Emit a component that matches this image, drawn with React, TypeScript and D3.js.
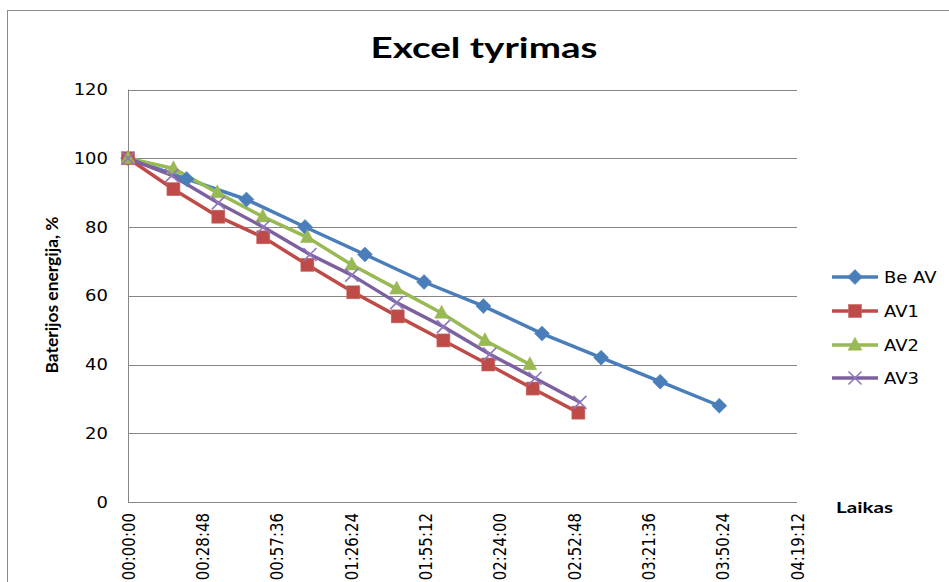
import React from "react";
import * as d3 from "d3";

// ---- data (times in minutes, battery energy in %) ----
const seriesNames = ["Be AV", "AV1", "AV2", "AV3"];
const beAvTimes = [0, 22.7, 45.9, 68.6, 91.8, 114.7, 137.7, 160.4, 183.3, 206.2, 229.1];
const beAvValues = [100, 94, 88, 80, 72, 64, 57, 49, 42, 35, 28];
const av1Times = [0, 17.6, 35.0, 52.4, 69.5, 87.3, 104.5, 122.2, 139.6, 156.8, 174.5];
const av1Values = [100, 91, 83, 77, 69, 61, 54, 47, 40, 33, 26];
const av2Times = [0, 17.6, 34.6, 52.2, 69.5, 86.7, 104.1, 121.5, 138.3, 155.7];
const av2Values = [100, 97, 90, 83, 77, 69, 62, 55, 47, 40];
const av3Times = [0, 17.0, 35.0, 52.4, 70.5, 86.7, 104.1, 122.2, 140.2, 157.7, 175.1];
const av3Values = [100, 95, 87, 80, 72, 66, 58, 51, 43, 36, 29];
const xTickLabels = ["00:00:00", "00:28:48", "00:57:36", "01:26:24", "01:55:12", "02:24:00", "02:52:48", "03:21:36", "03:50:24", "04:19:12"];
const yTickValues = [0, 20, 40, 60, 80, 100, 120];
const colors = ["#4A7EBB", "#BE4B48", "#98B954", "#7D60A0"];
const markerTypes = ["diamond", "square", "triangle", "x"];

const toMinutes = (s: string) => {
  const [h, m, sec] = s.split(":").map(Number);
  return h * 60 + m + sec / 60;
};

const W = 949, H = 582;
const plotL = 128, plotR = 797, plotT = 89.5, plotB = 502;
const grid = "#868686";
const SX = 1.2;

function Marker({ type, x, y, color }: { type: string; x: number; y: number; color: string }) {
  if (type === "diamond") {
    const r = 7.5;
    return <path d={`M${x},${y - r}L${x + r},${y}L${x},${y + r}L${x - r},${y}Z`} fill={color} stroke={color} strokeWidth={0.5} />;
  }
  if (type === "square") {
    const s = 13;
    return <rect x={x - s / 2} y={y - s / 2} width={s} height={s} fill={color} stroke="#C86A67" strokeWidth={0.6} />;
  }
  if (type === "triangle") {
    const w = 14, h = 13;
    return <path d={`M${x},${y - h * 0.6}L${x + w / 2},${y + h * 0.4}L${x - w / 2},${y + h * 0.4}Z`} fill={color} stroke={color} strokeWidth={0.5} />;
  }
  const r = 6.5;
  return (
    <g stroke="#8E78BC" strokeWidth={1.6}>
      <line x1={x - r} y1={y - r} x2={x + r} y2={y + r} />
      <line x1={x - r} y1={y + r} x2={x + r} y2={y - r} />
    </g>
  );
}

export default function App() {
  const maxMin = toMinutes(xTickLabels[xTickLabels.length - 1]);
  const x = d3.scaleLinear().domain([0, maxMin]).range([plotL, plotR]);
  const y = d3.scaleLinear().domain([0, 120]).range([plotB, plotT]);
  const line = d3.line<[number, number]>().x((d) => x(d[0])).y((d) => y(d[1]));

  const series = [
    { times: beAvTimes, values: beAvValues },
    { times: av1Times, values: av1Values },
    { times: av2Times, values: av2Values },
    { times: av3Times, values: av3Values },
  ].map((s, i) => ({
    name: seriesNames[i],
    color: colors[i],
    marker: markerTypes[i],
    pts: s.times.map((t, j) => [t, s.values[j]] as [number, number]),
  }));

  const legendY = [277, 311, 345, 378];

  return (
    <svg width={W} height={H} style={{ position: "absolute", left: 0, top: 0, background: "#fff" }}>
      <rect x={0} y={0} width={W} height={H} fill="#fff" />
      <rect x={7.5} y={10.5} width={W + 20} height={H + 20} fill="none" stroke="#8c8c8c" strokeWidth={1} />

      {/* title */}
      <text x={484} y={58} textAnchor="middle" fontFamily="Lato" fontWeight="bold" fontSize={29} textLength={227} lengthAdjust="spacingAndGlyphs" fill="#000">
        Excel tyrimas
      </text>

      {/* gridlines */}
      {yTickValues.map((v) => (
        <line key={v} x1={plotL} x2={plotR} y1={Math.round(y(v)) + 0.5} y2={Math.round(y(v)) + 0.5} stroke={grid} strokeWidth={1} />
      ))}
      <line x1={plotL + 0.5} x2={plotL + 0.5} y1={plotT} y2={plotB + 0.5} stroke={grid} strokeWidth={1} />

      {/* y tick labels */}
      {yTickValues.map((v) => (
        <text key={"l" + v} transform={`translate(108,${y(v) + 5.5}) scale(${SX},1)`} textAnchor="end" fontFamily="DejaVu Sans" fontSize={15} fill="#000">
          {v}
        </text>
      ))}

      {/* x tick labels */}
      {xTickLabels.map((lbl) => (
        <text key={lbl} transform={`translate(${x(toMinutes(lbl)) + 6.5},513) scale(${SX},1) rotate(-90)`} textAnchor="end" fontFamily="DejaVu Sans" fontSize={15} fill="#000">
          {lbl}
        </text>
      ))}

      {/* axis titles */}
      <text x={836} y={513} fontFamily="Lato" fontWeight="bold" fontSize={16} textLength={57} lengthAdjust="spacingAndGlyphs" fill="#000">
        Laikas
      </text>
      <text transform="translate(58,295) rotate(-90)" textAnchor="middle" fontFamily="Lato" fontWeight="bold" fontSize={17} textLength={157} lengthAdjust="spacingAndGlyphs" fill="#000">
        Baterijos energija, %
      </text>

      {/* series */}
      {series.map((s) => (
        <path key={s.name} d={line(s.pts) || ""} fill="none" stroke={s.color} strokeWidth={3.5} strokeLinejoin="round" />
      ))}
      {series.map((s) => (
        <g key={"m" + s.name}>
          {s.pts.map((p, j) => (
            <Marker key={j} type={s.marker} x={x(p[0])} y={y(p[1])} color={s.color} />
          ))}
        </g>
      ))}

      {/* legend */}
      {series.map((s, i) => (
        <g key={"lg" + s.name}>
          <line x1={832} x2={878} y1={legendY[i]} y2={legendY[i]} stroke={s.color} strokeWidth={3.5} />
          <Marker type={s.marker} x={855} y={legendY[i]} color={s.color} />
          <text transform={`translate(884,${legendY[i] + 5.5}) scale(${SX},1)`} fontFamily="DejaVu Sans" fontSize={15} fill="#000">
            {s.name}
          </text>
        </g>
      ))}
    </svg>
  );
}
